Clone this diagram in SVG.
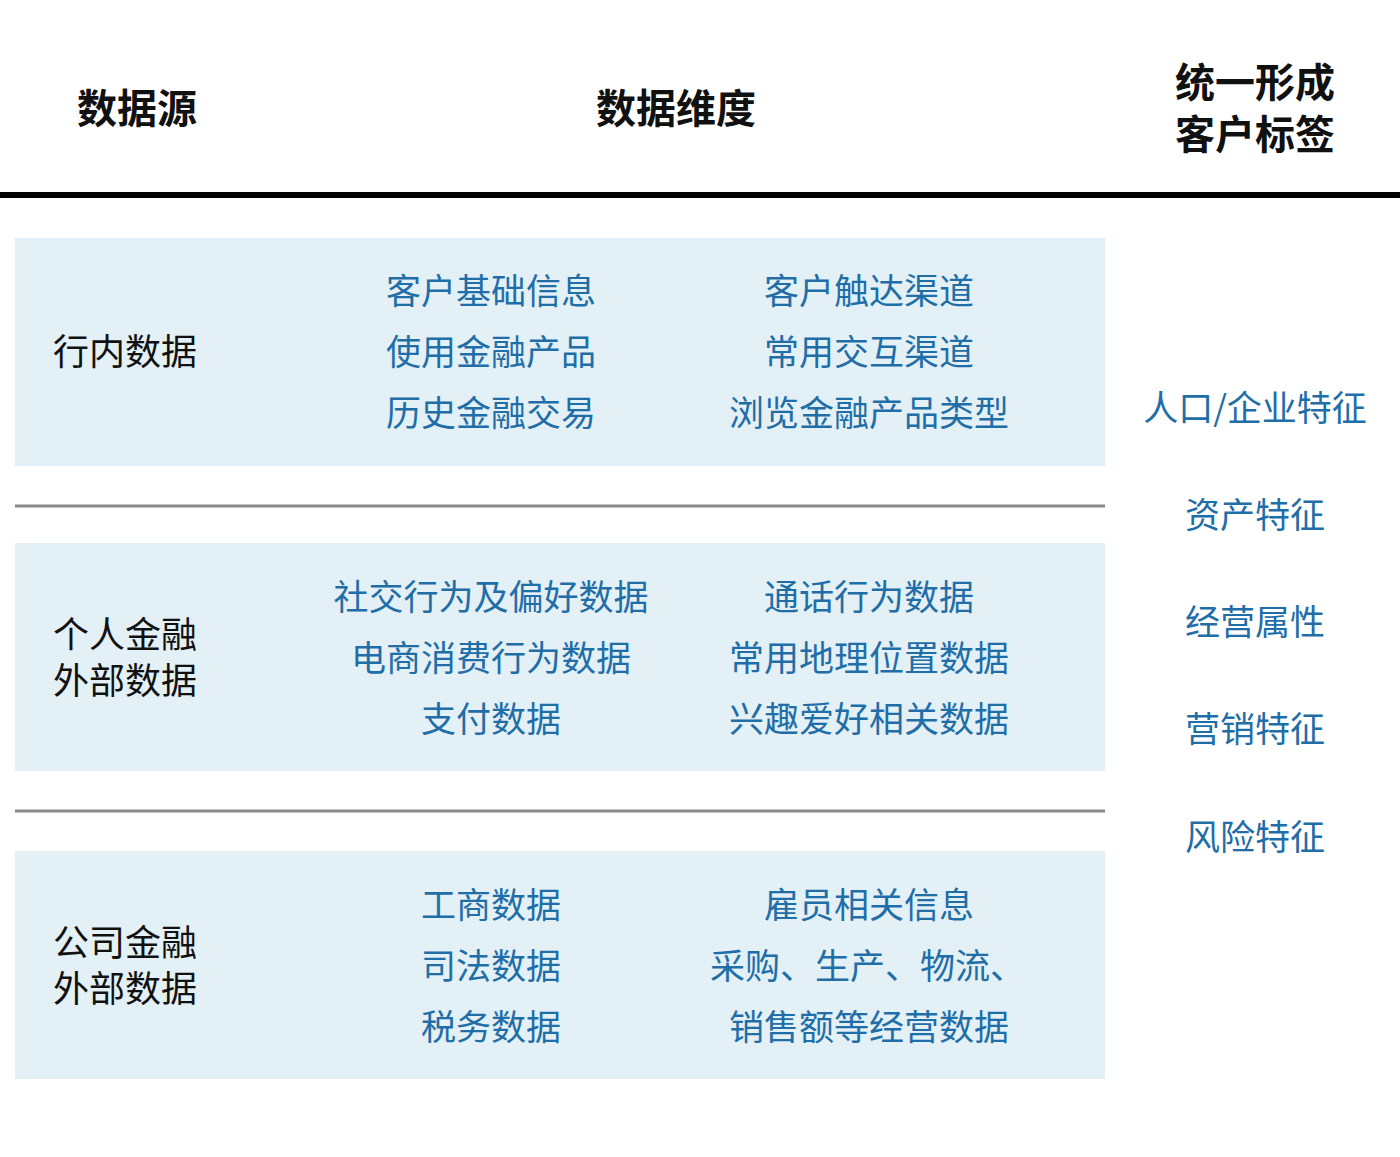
<svg xmlns="http://www.w3.org/2000/svg" width="1400" height="1157" viewBox="0 0 1400 1157">
<style>
text{font-family:"Noto Sans CJK SC","Noto Sans",sans-serif}
.h{font-size:40px;font-weight:bold;fill:#111;text-anchor:middle}
.l{font-size:36px;fill:#111}
.b{font-size:35px;fill:#1f6ea8;text-anchor:middle}
.p{fill:#e3f0f6}
</style>
<rect width="1400" height="1157" fill="#fff"/>
<g id="header">
<text class="h" x="137" y="123">数据源</text>
<text class="h" x="676" y="123">数据维度</text>
<text class="h" x="1255" y="97">统一形成</text>
<text class="h" x="1255" y="149">客户标签</text>
<rect x="0" y="192" width="1400" height="6" fill="#000"/>
</g>
<g id="connectors">
<rect x="15" y="504.5" width="1090" height="3" fill="#8a8a8a"/>
<rect x="15" y="809.5" width="1090" height="3" fill="#8a8a8a"/>
</g>
<g id="row1">
<rect class="p" x="15" y="238" width="1090" height="228"/>
<text class="l" x="53" y="365">行内数据</text>
<text class="b" x="491" y="304">客户基础信息</text>
<text class="b" x="491" y="365">使用金融产品</text>
<text class="b" x="491" y="426">历史金融交易</text>
<text class="b" x="869" y="304">客户触达渠道</text>
<text class="b" x="869" y="365">常用交互渠道</text>
<text class="b" x="869" y="426">浏览金融产品类型</text>
</g>
<g id="row2">
<rect class="p" x="15" y="543" width="1090" height="228"/>
<text class="l" x="53" y="648">个人金融</text>
<text class="l" x="53" y="694">外部数据</text>
<text class="b" x="491" y="610">社交行为及偏好数据</text>
<text class="b" x="491" y="671">电商消费行为数据</text>
<text class="b" x="491" y="732">支付数据</text>
<text class="b" x="869" y="610">通话行为数据</text>
<text class="b" x="869" y="671">常用地理位置数据</text>
<text class="b" x="869" y="732">兴趣爱好相关数据</text>
</g>
<g id="row3">
<rect class="p" x="15" y="851" width="1090" height="228"/>
<text class="l" x="53" y="956">公司金融</text>
<text class="l" x="53" y="1002">外部数据</text>
<text class="b" x="491" y="918">工商数据</text>
<text class="b" x="491" y="979">司法数据</text>
<text class="b" x="491" y="1040">税务数据</text>
<text class="b" x="869" y="918">雇员相关信息</text>
<text class="b" x="710" y="979" style="text-anchor:start">采购、生产、物流、</text>
<text class="b" x="729" y="1040" style="text-anchor:start">销售额等经营数据</text>
</g>
<g id="tags">
<text class="b" x="1255" y="421">人口/企业特征</text>
<text class="b" x="1255" y="528">资产特征</text>
<text class="b" x="1255" y="635">经营属性</text>
<text class="b" x="1255" y="742">营销特征</text>
<text class="b" x="1255" y="850">风险特征</text>
</g>
</svg>
